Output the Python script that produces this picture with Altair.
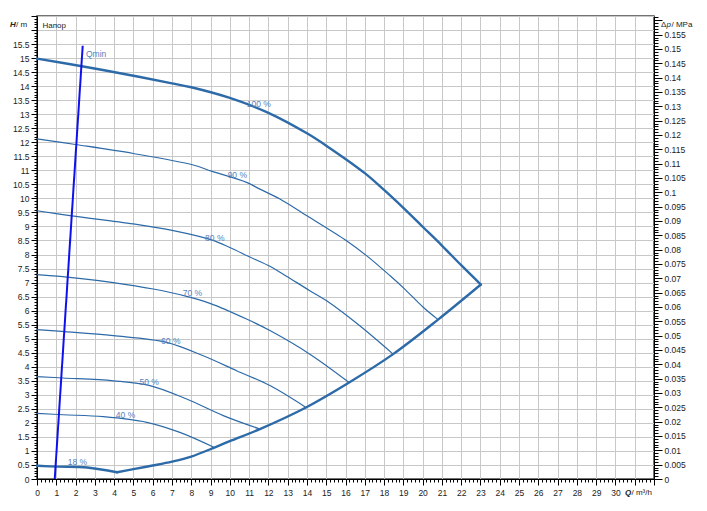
import altair as alt
import pandas as pd

# ---- data ----
q_100 = [0, 2.4, 5, 7, 8, 10, 12, 14, 15, 17, 18, 19, 20, 21, 22, 23.02]
h_100 = [14.98, 14.7, 14.37, 14.1, 13.96, 13.58, 13.05, 12.32, 11.88, 10.9, 10.3, 9.66, 8.99, 8.32, 7.62, 6.93]
q_env = [4.15, 5, 6, 7, 8, 9.2, 10, 11.56, 13.95, 16.19, 18.47, 20.8, 23.02]
h_env = [0.24, 0.35, 0.48, 0.62, 0.8, 1.12, 1.35, 1.78, 2.55, 3.44, 4.45, 5.68, 6.93]
q_18 = [0, 1.1, 2.6, 4.15]
h_18 = [0.47, 0.44, 0.41, 0.24]
q_90 = [0, 2, 5, 8.1, 9.05, 10.87, 11.56, 12.6, 14, 16.05, 17.09, 18.3, 19.1, 20.03, 20.8]
h_90 = [12.12, 11.92, 11.6, 11.19, 10.97, 10.57, 10.33, 9.98, 9.38, 8.49, 7.96, 7.25, 6.75, 6.12, 5.68]
q_80 = [0, 1.8, 5, 7.07, 9.05, 10, 11.04, 12.08, 12.77, 14.15, 15.02, 16.74, 18.47]
h_80 = [9.56, 9.38, 9.09, 8.85, 8.52, 8.25, 7.91, 7.58, 7.3, 6.71, 6.35, 5.46, 4.45]
q_70 = [0, 2.06, 3.96, 6.03, 7.76, 8.97, 10.87, 12.08, 14.15, 16.19]
h_70 = [7.28, 7.16, 7.0, 6.77, 6.51, 6.26, 5.7, 5.29, 4.45, 3.44]
q_60 = [0, 1.45, 3.96, 6.72, 8.62, 10.35, 12.08, 13.95]
h_60 = [5.32, 5.25, 5.11, 4.87, 4.39, 3.86, 3.33, 2.55]
q_50 = [0, 1.36, 3.96, 5.86, 7.76, 9.66, 11.56]
h_50 = [3.65, 3.6, 3.5, 3.33, 2.85, 2.26, 1.78]
q_40 = [0, 1.36, 3.44, 5.69, 7.41, 9.2]
h_40 = [2.34, 2.29, 2.22, 2.02, 1.66, 1.12]
q_min = [0.92, 2.37]
h_min = [0.0, 15.44]

label_text = ["100 %", "90 %", "80 %", "70 %", "60 %", "50 %", "40 %", "18 %"]
label_q = [11.5, 10.39, 9.22, 8.06, 6.94, 5.82, 4.59, 2.1]
label_h = [13.36, 10.84, 8.59, 6.63, 4.93, 3.47, 2.28, 0.62]

X_MAX = 32
Y_MAX = 16.5
P_MAX = 0.1615

x_vals = [round(i * 0.2, 1) for i in range(0, 161)]
y_vals = [round(i * 0.1, 1) for i in range(0, 166)]
p_vals = [round(i * 0.001, 3) for i in range(0, 162)]

FONT = "Liberation Sans"
CURVE = "#2d6aa8"
LABEL = "#5582bd"

# ---- tables ----
def frame(q, h, name):
    return pd.DataFrame({"Q": q, "H": h, "curve": name, "i": range(len(q))})

thick = pd.concat([frame(q_18, h_18, "18"), frame(q_env, h_env, "env"), frame(q_100, h_100, "100")])
thin = pd.concat([
    frame(q_90, h_90, "90"), frame(q_80, h_80, "80"), frame(q_70, h_70, "70"),
    frame(q_60, h_60, "60"), frame(q_50, h_50, "50"), frame(q_40, h_40, "40"),
])
qmin = frame(q_min, h_min, "qmin")
labels = pd.DataFrame({"t": label_text, "Q": label_q, "H": label_h})
qmin_label = pd.DataFrame({"t": ["Qmin"], "Q": [2.54], "H": [15.15]})

x_major = "abs(datum.value - round(datum.value)) < 0.001"
y_major = "abs(datum.value*2 - round(datum.value*2)) < 0.001"
p_major = "abs(datum.value*200 - round(datum.value*200)) < 0.001"

x_axis = alt.Axis(values=x_vals, title=None,
                  labelExpr=f"{x_major} && datum.value <= 30.5 ? '' + round(datum.value) : ''",
                  tickSize={"condition": {"test": x_major, "value": 6}, "value": 3},
                  gridOpacity={"condition": {"test": x_major, "value": 1}, "value": 0},
                  grid=True, labelPadding=3, labelFlush=False, labelOverlap=False)
x_scale = alt.Scale(domain=[0, X_MAX], nice=False, zero=False)
y_scale = alt.Scale(domain=[0, Y_MAX], nice=False, zero=False)
y_axis = alt.Axis(values=y_vals, title=None,
                  labelExpr=f"{y_major} && datum.value <= 15.6 ? '' + datum.value : ''",
                  tickSize={"condition": {"test": y_major, "value": 6}, "value": 3},
                  gridOpacity={"condition": {"test": y_major, "value": 1}, "value": 0},
                  grid=True, labelPadding=2, labelFlush=False, labelOverlap=False)

X = alt.X("Q:Q", scale=x_scale, axis=x_axis)
Y = alt.Y("H:Q", scale=y_scale, axis=y_axis)

thick_lines = alt.Chart(thick).mark_line(color=CURVE, strokeWidth=2.4, interpolate="catmull-rom",
                                          strokeCap="round", strokeJoin="round").encode(
    x=X, y=Y, detail="curve:N", order="i:O")
thin_lines = alt.Chart(thin).mark_line(color=CURVE, strokeWidth=1.2, interpolate="catmull-rom").encode(
    x=X, y=Y, detail="curve:N", order="i:O")
qmin_line = alt.Chart(qmin).mark_line(color="#1010ee", strokeWidth=2).encode(
    x=X, y=Y, order="i:O")
curve_labels = alt.Chart(labels).mark_text(font=FONT, fontSize=8.5, color=LABEL).encode(
    x=X, y=Y, text="t:N")
qmin_text = alt.Chart(qmin_label).mark_text(font=FONT, fontSize=8.5, color=LABEL, align="left").encode(
    x=X, y=Y, text="t:N")

def txt(s, x, y, italic=False, bold=False, align="left"):
    kw = dict(font=FONT, fontSize=8, color="#222", align=align, baseline="middle", text=s)
    if italic:
        kw["fontStyle"] = "italic"
    if bold:
        kw["fontWeight"] = "bold"
    return alt.Chart(pd.DataFrame({"a": [0]})).mark_text(**kw).encode(
        x=alt.value(x), y=alt.value(y))

titles = [
    txt("H", -27, 9, italic=True, bold=True),
    txt("/ m", -21, 9),
    txt("Напор", 5.5, 10),
    txt("Δ", 624, 8.5),
    txt("p", 629.5, 8.5, italic=True),
    txt("/ MPa", 634.5, 8.5),
    txt("Q", 588, 477, italic=True, bold=True),
    txt("/ m³/h", 594.5, 477),
]

main = alt.layer(thick_lines, thin_lines, qmin_line, curve_labels, qmin_text, *titles)

right = alt.Chart(pd.DataFrame({"Q": [0, X_MAX], "P": [0, P_MAX]})).mark_point(opacity=0).encode(
    x=X,
    y=alt.Y("P:Q", scale=alt.Scale(domain=[0, P_MAX], nice=False, zero=False),
            axis=alt.Axis(orient="right", values=p_vals, title=None, grid=False,
                          labelExpr=f"{p_major} && datum.value <= 0.1575 ? '' + datum.value : ''",
                          tickSize={"condition": {"test": p_major, "value": 8}, "value": 4},
                          labelPadding=2, labelFlush=False, labelOverlap=False)))

chart = alt.layer(main, right).resolve_scale(y="independent").properties(
    width=617, height=463,
    autosize=alt.AutoSizeParams(type="none"),
    padding={"left": 29, "top": 8, "right": 45, "bottom": 25},
).configure_axis(
    labelFont=FONT, labelFontSize=8.5, labelColor="#222",
    domainColor="#000", domainWidth=1, tickColor="#000", tickWidth=1,
    gridColor="#c8c8c8", gridWidth=1,
).configure_view(stroke="#444", strokeWidth=1.5)

chart.save("out.html", embed_options={"renderer": "svg", "actions": False})
